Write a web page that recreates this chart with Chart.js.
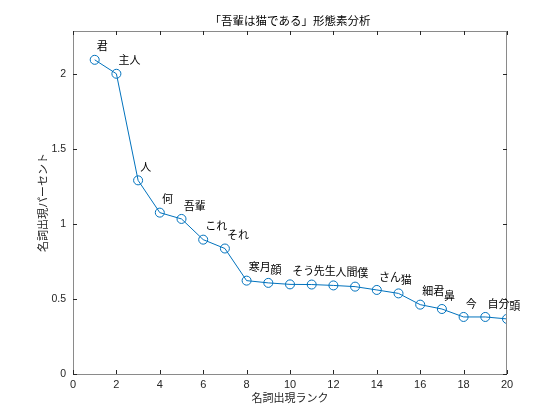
<!DOCTYPE html>
<html>
<head>
<meta charset="utf-8">
<script src="https://cdn.jsdelivr.net/npm/chart.js@4"></script>
<style>
html,body{margin:0;padding:0;background:#fff;}
#wrap{width:560px;height:420px;}
</style>
</head>
<body>
<div id="wrap"><canvas id="c" width="560" height="420"></canvas></div>
<script>
const ranks = [1,2,3,4,5,6,7,8,9,10,11,12,13,14,15,16,17,18,19,20];
const words = ['君','主人','人','何','吾輩','これ','それ','寒月','顔','そう','先生','人間','僕','さん','猫','細君','鼻','今','自分','頭'];
const percents = [2.093,2.0,1.29,1.075,1.033,0.895,0.836,0.622,0.607,0.597,0.596,0.590,0.582,0.560,0.537,0.462,0.433,0.380,0.380,0.367];
const xTicks = [0,2,4,6,8,10,12,14,16,18,20];
const yTicks = [0,0.5,1,1.5,2];
const titleText = '「吾輩は猫である」形態素分析';
const xTitle = '名詞出現ランク';
const yTitle = '名詞出現パーセント';

const JP = '"Noto Sans CJK JP", sans-serif';
const NUM = '"Liberation Sans", Arial, sans-serif';

const decor = {
  id: 'decor',
  afterDraw(chart) {
    const ctx = chart.ctx;
    const a = chart.chartArea;
    const xs = chart.scales.x, ys = chart.scales.y;
    ctx.save();
    // box
    ctx.strokeStyle = '#8a8a8a';
    ctx.lineWidth = 1;
    ctx.strokeRect(Math.round(a.left)+0.5, Math.round(a.top)+0.5, Math.round(a.right-a.left)-1, Math.round(a.bottom-a.top));
    // ticks inside
    ctx.strokeStyle = '#262626';
    ctx.beginPath();
    xTicks.forEach(v => {
      const px = Math.round(xs.getPixelForValue(v)) + 0.5;
      ctx.moveTo(px, a.bottom); ctx.lineTo(px, a.bottom - 4);
      ctx.moveTo(px, a.top); ctx.lineTo(px, a.top + 4);
    });
    yTicks.forEach(v => {
      const py = Math.round(ys.getPixelForValue(v)) + 0.5;
      ctx.moveTo(a.left, py); ctx.lineTo(a.left + 4, py);
      ctx.moveTo(a.right, py); ctx.lineTo(a.right - 4, py);
    });
    ctx.stroke();
    // point labels
    ctx.fillStyle = '#000';
    ctx.font = '11px ' + JP;
    ctx.textAlign = 'left';
    ctx.textBaseline = 'middle';
    words.forEach((w, i) => {
      const px = xs.getPixelForValue(ranks[i] + 0.1);
      const py = ys.getPixelForValue(percents[i] + 0.09);
      ctx.fillText(w, px, py);
    });
    // title
    ctx.fillStyle = '#000';
    ctx.font = '11.5px ' + JP;
    ctx.textAlign = 'center';
    ctx.textBaseline = 'middle';
    ctx.fillText(titleText, (a.left + a.right) / 2, 21);
    // x title
    ctx.fillStyle = '#262626';
    ctx.font = '11px ' + JP;
    ctx.fillText(xTitle, (a.left + a.right) / 2, 398);
    // y title
    ctx.translate(43, (a.top + a.bottom) / 2);
    ctx.rotate(-Math.PI / 2);
    ctx.fillText(yTitle, 0, 0);
    ctx.restore();
  }
};

new Chart(document.getElementById('c'), {
  type: 'line',
  data: {
    datasets: [{
      data: ranks.map((r, i) => ({x: r, y: percents[i]})),
      borderColor: '#0072BD',
      backgroundColor: 'rgba(0,0,0,0)',
      borderWidth: 1,
      pointRadius: 4.5,
      pointHoverRadius: 4.5,
      pointBorderWidth: 1,
      pointBorderColor: '#0072BD',
      pointBackgroundColor: 'rgba(0,0,0,0)',
      tension: 0
    }]
  },
  options: {
    responsive: false,
    animation: false,
    devicePixelRatio: 1,
    layout: { padding: { left: 0, top: 31, right: 53, bottom: 0 } },
    plugins: { legend: { display: false }, tooltip: { enabled: false } },
    scales: {
      x: {
        type: 'linear', min: 0, max: 20,
        afterBuildTicks: s => { s.ticks = xTicks.map(v => ({value: v})); },
        ticks: { font: { family: NUM, size: 11 }, color: '#262626', padding: 4, maxRotation: 0, autoSkip: false, callback: v => String(v) },
        grid: { display: true, drawOnChartArea: false, drawTicks: false },
        border: { display: false },
        afterFit: s => { s.height = 46; }
      },
      y: {
        type: 'linear', min: 0, max: 2.285,
        afterBuildTicks: s => { s.ticks = yTicks.map(v => ({value: v})); },
        ticks: { font: { family: NUM, size: 10.5 }, color: '#262626', padding: 7, autoSkip: false, callback: v => String(v) },
        grid: { display: true, drawOnChartArea: false, drawTicks: false },
        border: { display: false },
        afterFit: s => { s.width = 73; }
      }
    }
  },
  plugins: [decor]
});
</script>
</body>
</html>
